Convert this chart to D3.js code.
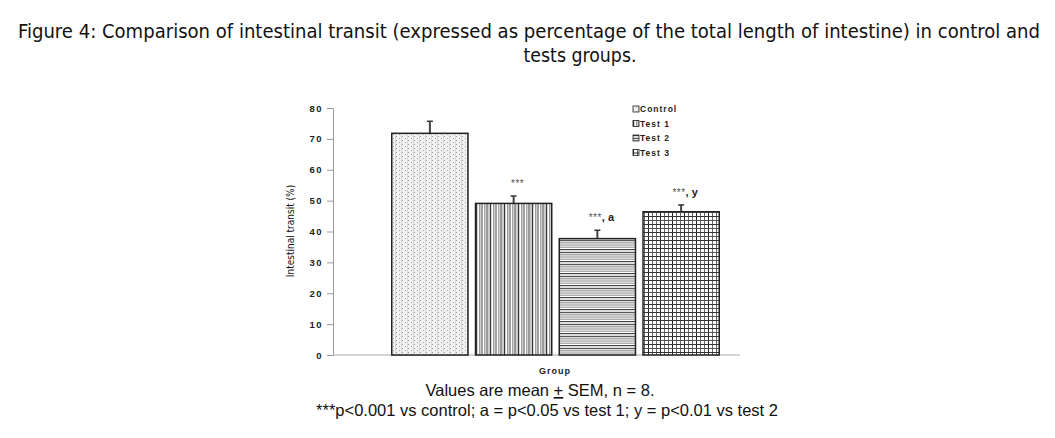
<!DOCTYPE html>
<html>
<head>
<meta charset="utf-8">
<script src="https://cdn.jsdelivr.net/npm/d3@7"></script>
<style>
body{margin:0;background:#fff;}
svg{display:block;}
</style>
</head>
<body>
<svg id="fig" width="1055" height="438"></svg>
<script>
// donnees
var groupes = ["Control", "Test 1", "Test 2", "Test 3"];
var moyennes = [71.8, 49.1, 37.7, 46.4];
var sem = [3.9, 2.4, 2.7, 2.2];
var annotations = ["", "***", "***, a", "***, y"];
var graduations = [0, 10, 20, 30, 40, 50, 60, 70, 80];
var motifs = ["pControl", "pTest1", "pTest2", "pTest3"];

var svg = d3.select("#fig");
var policeEtroite = "DejaVu Sans Condensed, Liberation Sans Narrow, sans-serif";
var policeArial = "Arial, Liberation Sans, sans-serif";

//------------------- motifs de remplissage -------------------
var defs = svg.append("defs");

var p0 = defs.append("pattern").attr("id", "pControl").attr("patternUnits", "userSpaceOnUse")
    .attr("width", 6).attr("height", 4);
p0.append("rect").attr("width", 6).attr("height", 4).attr("fill", "#f2f2f2");
p0.append("rect").attr("x", 0).attr("y", 0).attr("width", 1).attr("height", 1).attr("fill", "#999");
p0.append("rect").attr("x", 3).attr("y", 2).attr("width", 1).attr("height", 1).attr("fill", "#a5a5a5");
p0.append("rect").attr("x", 5).attr("y", 0).attr("width", 1).attr("height", 4).attr("fill", "#d8d8d8");

var p1 = defs.append("pattern").attr("id", "pTest1").attr("patternUnits", "userSpaceOnUse")
    .attr("width", 14).attr("height", 4);
p1.append("rect").attr("width", 14).attr("height", 4).attr("fill", "#fff");
[[0, 1.2, "#333"], [3, 1.5, "#9a9a9a"], [5.5, 1, "#444"], [8, 1.5, "#a5a5a5"], [10.5, 1, "#333"], [12.5, 1, "#999"]]
    .forEach(function(l){
        p1.append("rect").attr("x", l[0]).attr("y", 0).attr("width", l[1]).attr("height", 4).attr("fill", l[2]);
    });

var p2 = defs.append("pattern").attr("id", "pTest2").attr("patternUnits", "userSpaceOnUse")
    .attr("width", 4).attr("height", 12);
p2.append("rect").attr("width", 4).attr("height", 12).attr("fill", "#fff");
[[0, 1.2, "#555"], [2, 1.5, "#aaa"], [4.5, 1, "#888"], [6.5, 1.5, "#b0b0b0"], [9, 1, "#444"], [10.5, 1, "#bbb"]]
    .forEach(function(l){
        p2.append("rect").attr("x", 0).attr("y", l[0]).attr("width", 4).attr("height", l[1]).attr("fill", l[2]);
    });

var p3 = defs.append("pattern").attr("id", "pTest3").attr("patternUnits", "userSpaceOnUse")
    .attr("width", 12).attr("height", 8);
p3.append("rect").attr("width", 12).attr("height", 8).attr("fill", "#fff");
[0, 4, 8].forEach(function(x, i){
    p3.append("rect").attr("x", x).attr("y", 0).attr("width", 1).attr("height", 8)
        .attr("fill", i == 0 ? "#222" : "#666");
});
[0, 4].forEach(function(y, i){
    p3.append("rect").attr("x", 0).attr("y", y).attr("width", 12).attr("height", 1)
        .attr("fill", i == 0 ? "#333" : "#555");
});

//------------------- titre -------------------
svg.append("text").attr("x", 529).attr("y", 38).attr("text-anchor", "middle")
    .attr("font-family", policeEtroite).attr("font-size", 19)
    .attr("fill", "#111").attr("textLength", 1022).attr("lengthAdjust", "spacingAndGlyphs")
    .text("Figure 4: Comparison of intestinal transit (expressed as percentage of the total length of intestine) in control and");
svg.append("text").attr("x", 580).attr("y", 62).attr("text-anchor", "middle")
    .attr("font-family", policeEtroite).attr("font-size", 19)
    .attr("fill", "#111").attr("textLength", 113).attr("lengthAdjust", "spacingAndGlyphs")
    .text("tests groups.");

//------------------- echelles -------------------
var y = d3.scaleLinear().domain([0, 80]).range([355, 108]);
var x = d3.scaleBand().domain(groupes).range([388, 723]).paddingInner(0.09).paddingOuter(0.045);

// axe Y
var axeY = d3.axisLeft(y).tickValues(graduations).tickSize(6).tickPadding(4);
var gY = svg.append("g").attr("transform", "translate(333,0)").call(axeY);
gY.select(".domain").attr("stroke", "#999");
gY.selectAll(".tick line").attr("stroke", "#999");
gY.selectAll(".tick text").attr("font-family", policeArial)
    .attr("font-size", 9.5).attr("font-weight", "bold").attr("letter-spacing", 1.5).attr("fill", "#222");

// axe X
svg.append("line").attr("x1", 333).attr("x2", 740).attr("y1", y(0)).attr("y2", y(0))
    .attr("stroke", "#aaa").attr("stroke-width", 1.2);

svg.append("text").attr("transform", "translate(294,231) rotate(-90)").attr("text-anchor", "middle")
    .attr("font-family", policeEtroite).attr("font-size", 10)
    .attr("fill", "#111").text("Intestinal transit (%)");

svg.append("text").attr("x", 555).attr("y", 374).attr("text-anchor", "middle")
    .attr("font-family", policeArial).attr("font-size", 9).attr("letter-spacing", 1)
    .attr("font-weight", "bold").attr("fill", "#222").text("Group");

//------------------- barres -------------------
var barres = svg.append("g").selectAll("g").data(groupes).enter().append("g");

// barre d'erreur (moitie haute)
barres.append("line")
    .attr("x1", function(d){ return x(d) + x.bandwidth() / 2; })
    .attr("x2", function(d){ return x(d) + x.bandwidth() / 2; })
    .attr("y1", function(d, i){ return y(moyennes[i]); })
    .attr("y2", function(d, i){ return y(moyennes[i] + sem[i]); })
    .attr("stroke", "#444").attr("stroke-width", 2);
barres.append("line")
    .attr("x1", function(d){ return x(d) + x.bandwidth() / 2 - 3; })
    .attr("x2", function(d){ return x(d) + x.bandwidth() / 2 + 3; })
    .attr("y1", function(d, i){ return y(moyennes[i] + sem[i]); })
    .attr("y2", function(d, i){ return y(moyennes[i] + sem[i]); })
    .attr("stroke", "#333").attr("stroke-width", 1.5);

barres.append("rect")
    .attr("x", function(d){ return x(d); })
    .attr("y", function(d, i){ return y(moyennes[i]); })
    .attr("width", x.bandwidth())
    .attr("height", function(d, i){ return y(0) - y(moyennes[i]); })
    .attr("fill", function(d, i){ return "url(#" + motifs[i] + ")"; })
    .attr("stroke", "#222").attr("stroke-width", 1.5);

// annotations de significativite
barres.append("text")
    .attr("x", function(d){ return x(d) + x.bandwidth() / 2 + 4; })
    .attr("y", function(d, i){ return y(moyennes[i] + sem[i]) - 9; })
    .attr("text-anchor", "middle")
    .attr("font-family", policeArial).attr("font-size", 11)
    .attr("font-weight", "bold").attr("fill", "#222")
    .each(function(d, i){
        var t = d3.select(this);
        var a = annotations[i];
        if (a == "") return;
        t.append("tspan").attr("fill", "#555").attr("font-size", 10).attr("font-weight", "normal")
            .attr("letter-spacing", 0.5).text("***");
        if (a.length > 3) t.append("tspan").text(a.slice(3));
    });

//------------------- legende -------------------
var legende = svg.append("g").selectAll("g").data(groupes).enter().append("g")
    .attr("transform", function(d, i){ return "translate(633," + (109 + i * 14.5) + ")"; });
legende.append("rect").attr("x", 0).attr("y", -3).attr("width", 6).attr("height", 6)
    .attr("fill", function(d, i){ return "url(#" + motifs[i] + ")"; })
    .attr("stroke", "#222").attr("stroke-width", 0.8);
legende.append("text").attr("x", 7).attr("y", 3)
    .attr("font-family", policeArial).attr("font-size", 8.5).attr("letter-spacing", 1)
    .attr("font-weight", "bold").attr("fill", "#222")
    .text(function(d){ return d; });

//------------------- notes -------------------
var note1 = svg.append("text").attr("x", 540).attr("y", 396).attr("text-anchor", "middle")
    .attr("font-family", policeArial).attr("font-size", 16.5).attr("fill", "#111");
note1.append("tspan").text("Values are mean ");
note1.append("tspan").attr("text-decoration", "underline").text("+");
note1.append("tspan").text(" SEM, n = 8.");

svg.append("text").attr("x", 547).attr("y", 416).attr("text-anchor", "middle")
    .attr("font-family", policeArial).attr("font-size", 16.5).attr("fill", "#111")
    .text("***p<0.001 vs control; a = p<0.05 vs test 1; y = p<0.01 vs test 2");
</script>
</body>
</html>
